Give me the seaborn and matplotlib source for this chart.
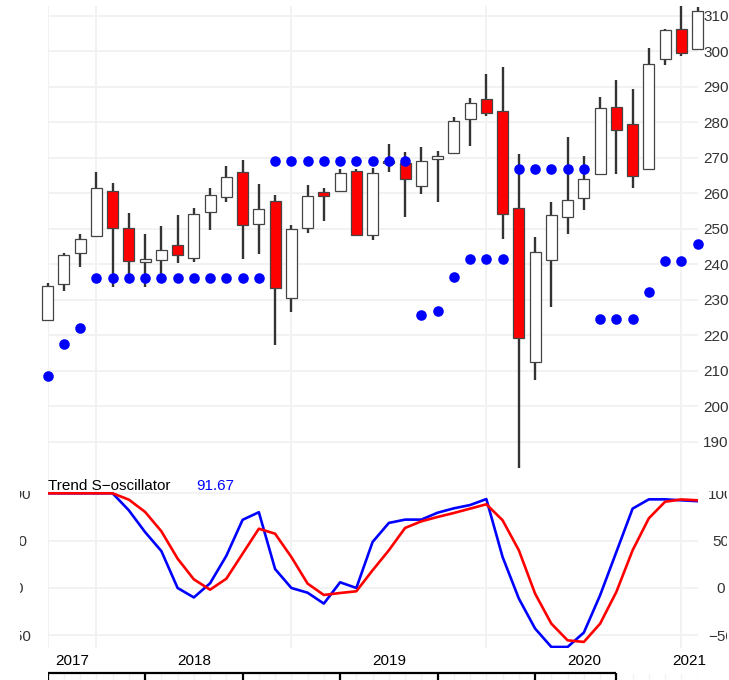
import numpy as np
import pandas as pd
import matplotlib
matplotlib.use("Agg")
import matplotlib.pyplot as plt
import matplotlib.transforms as mtransforms
import seaborn as sns

# ---------------- data ----------------
months = pd.date_range("2017-10-01", periods=41, freq="MS")

open_ = [224.2, 234.4, 243.0, 248.0, 260.7, 250.1, 240.6, 241.1, 245.4, 241.6,
         254.6, 259.0, 265.9, 251.3, 257.7, 230.5, 250.1, 260.2, 260.6, 266.3,
         248.1, 268.4, 268.6, 262.0, 269.5, 271.2, 281.0, 286.4, 283.1, 255.9,
         212.3, 241.1, 253.3, 258.7, 265.4, 284.3, 279.4, 266.7, 297.9, 306.1,
         300.5]
high = [234.7, 243.2, 248.6, 266.0, 262.9, 254.3, 248.4, 250.7, 253.8, 255.7,
        261.5, 267.6, 269.3, 262.7, 259.6, 251.0, 262.3, 261.5, 266.8, 266.7,
        267.0, 273.8, 271.6, 272.9, 271.9, 281.5, 286.8, 293.5, 295.6, 270.9,
        247.5, 257.4, 275.7, 270.5, 287.1, 291.8, 289.3, 300.9, 306.1, 312.7,
        312.3]
low = [224.2, 232.4, 239.3, 247.5, 233.6, 236.0, 233.6, 236.0, 240.2, 240.7,
       249.6, 257.5, 241.3, 242.8, 217.2, 226.4, 248.8, 252.1, 260.5, 248.0,
       246.8, 266.0, 253.3, 259.7, 257.4, 271.0, 273.2, 281.7, 247.0, 182.5,
       207.3, 228.0, 248.5, 255.2, 265.3, 265.4, 261.5, 266.6, 296.1, 298.6,
       300.4]
close = [233.8, 242.7, 247.1, 261.3, 250.1, 240.9, 241.5, 244.1, 242.7, 254.0,
         259.6, 264.5, 251.0, 255.4, 233.2, 250.0, 259.2, 259.2, 265.8, 248.1,
         265.8, 268.9, 263.9, 269.0, 270.4, 280.4, 285.3, 282.5, 254.0, 219.1,
         243.4, 253.8, 258.0, 264.1, 284.1, 277.7, 264.9, 296.3, 305.9, 299.6,
         311.4]
sar = [208.5, 217.5, 222.1, 236.0, 236.0, 236.0, 236.0, 236.0, 236.0, 236.0,
       236.0, 236.0, 236.0, 236.0, 269.0, 269.0, 269.0, 269.0, 269.0, 269.0,
       269.0, 269.0, 269.0, 225.6, 226.7, 236.5, 241.3, 241.3, 241.3, 266.8,
       266.8, 266.8, 266.8, 266.8, 224.5, 224.5, 224.5, 232.1, 240.8, 240.8,
       245.6]
osc_fast = [100, 100, 100, 100, 100, 82, 59, 39, 0, -10,
            5, 34, 72, 80, 20, 0, -5, -16.5, 6, 0,
            48.6, 68.7, 72.2, 72.2, 79.5, 84.1, 87.6, 93.9, 32.7, -11.2,
            -42.9, -62.3, -62.3, -47.1, -7.7, 38.0, 83.8, 93.6, 93.6, 92.6,
            91.67]
osc_slow = [100, 100, 100, 100, 100, 93.3, 80.3, 59.9, 31.0, 9.1,
            -1.8, 9.8, 36.2, 62.6, 57.3, 32.7, 4.6, -7.4, -5.3, -3.5,
            18.7, 39.8, 63.4, 70.4, 75.0, 79.2, 83.8, 88.4, 71.5, 39.8,
            -6.0, -37.7, -55.3, -57.0, -37.7, -4.2, 39.8, 73.6, 91.1, 93.5,
            92.6]
price_ticks = [190, 200, 210, 220, 230, 240, 250, 260, 270, 280, 290, 300, 310]
osc_ticks = [-50, 0, 50, 100]
osc_labels = ["\u221250", "0", "50", "100"]
strip_ticks = [0, 6, 12, 18, 24, 30, 35]

# ---------------- derived ----------------
n = len(months)
pos = np.arange(n)
o = np.array(open_); c = np.array(close)
years = months.year
starts = [0] + [i for i in range(1, n) if years[i] != years[i - 1]]
bounds = starts + [n - 1]
label_pos = [(bounds[k] + bounds[k + 1]) / 2 for k in range(len(starts))]
label_txt = [str(years[s]) for s in starts]

# ---------------- figure ----------------
sns.set_theme(style="white")
plt.rcParams["font.family"] = ["Liberation Sans", "DejaVu Sans"]
plt.rcParams["axes.unicode_minus"] = True

W, H = 729, 680
fig = plt.figure(figsize=(W / 100, H / 100), dpi=100, facecolor="white")


def rect(x0, y0, x1, y1):
    return [x0 / W, 1 - y1 / H, (x1 - x0) / W, (y1 - y0) / H]


ax = fig.add_axes(rect(47.6, 6, 697.6, 470))
ax2 = fig.add_axes(rect(47.6, 470, 697.6, 648))
ax3 = fig.add_axes(rect(47.6, 664, 697.6, 680))

grid_col = "#f2f2f2"

# ---- main price panel ----
ax.set_xlim(0, n - 1)
ax.set_ylim(182.0, 312.7)
for b in starts:
    ax.axvline(b, color=grid_col, lw=1.4, zorder=0)
ax.set_yticks(price_ticks)
ax.yaxis.grid(True, color=grid_col, lw=1.4)
ax.set_axisbelow(True)

ax.vlines(pos, low, high, color="#333333", lw=1.7, zorder=2, clip_on=False)
body_col = ["white" if cc >= oo else "#ff0000" for oo, cc in zip(o, c)]
ax.bar(pos, np.abs(c - o), bottom=np.minimum(o, c), width=0.68,
       color=body_col, edgecolor="#444444", linewidth=0.9, zorder=3, clip_on=False)
sns.scatterplot(x=pos, y=sar, ax=ax, color="#0000ff", s=58, linewidth=0,
                zorder=4, clip_on=False, legend=False)

for s in ax.spines.values():
    s.set_visible(False)
ax.set_xticks([])
ax.yaxis.tick_right()
ax.tick_params(axis="y", length=0, pad=13.2, labelsize=11, labelcolor="#333333")
for t in ax.get_yticklabels():
    t.set_ha("center")
ax.set_xlabel(""); ax.set_ylabel("")

# ---- oscillator panel ----
df = pd.DataFrame({
    "pos": np.concatenate([pos, pos]),
    "value": osc_fast + osc_slow,
    "series": ["fast"] * n + ["slow"] * n,
})
sns.lineplot(data=df, x="pos", y="value", hue="series", ax=ax2,
             palette={"fast": "#0000ff", "slow": "#ff0000"},
             estimator=None, sort=False, lw=1.9, legend=False, zorder=3)
ax2.set_xlim(0, n - 1)
ax2.set_ylim(-63.4, 124.6)
for b in starts:
    ax2.axvline(b, color=grid_col, lw=1.4, zorder=0)
ax2.set_yticks(osc_ticks, labels=osc_labels)
ax2.yaxis.grid(True, color=grid_col, lw=1.4)
ax2.set_axisbelow(True)
for s in ax2.spines.values():
    s.set_visible(False)
ax2.set_xticks(label_pos, labels=label_txt)
ax2.tick_params(axis="x", length=0, pad=4.0, labelsize=11, labelcolor="black")
ax2.tick_params(axis="y", length=0, pad=21.0, labelsize=11, labelcolor="#333333",
                left=False, right=False, labelleft=True, labelright=True)
ax2.set_xlabel(""); ax2.set_ylabel("")

clip_left = mtransforms.TransformedBbox(
    mtransforms.Bbox.from_extents(20 / W, 0, 0.5, 1 - 491 / H), fig.transFigure)
clip_right = mtransforms.TransformedBbox(
    mtransforms.Bbox.from_extents(0.5, 0, 727 / W, 1 - 491 / H), fig.transFigure)
shift = mtransforms.ScaledTranslation(-5.8 / 100, 0, fig.dpi_scale_trans)
for tk in ax2.yaxis.get_major_ticks():
    for lab, cb in ((tk.label1, clip_left), (tk.label2, clip_right)):
        lab.set_ha("center")
        lab.set_clip_box(cb)
        lab.set_clip_on(True)
    tk.label2.set_transform(tk.label2.get_transform() + shift)

ax2.text(0, 107.7, "Trend S\u2212oscillator", ha="left", va="center",
         fontsize=11, color="black")
ax2.text(9.14, 107.7, f"{osc_fast[-1]:.2f}", ha="left", va="center",
         fontsize=11, color="#0000ff")

# ---- bottom strip ----
ax3.set_xlim(0, n - 1)
ax3.set_ylim(0, 1)
ax3.axis("off")
yl = (680 - 673) / 16
ax3.vlines(pos, 0, yl, color="#f3f3f3", lw=1.0, zorder=1)
ax3.hlines(yl, strip_ticks[0], strip_ticks[-1], color="black", lw=1.6, zorder=3)
ax3.vlines(strip_ticks, 0, yl, color="black", lw=1.6, zorder=3)

fig.savefig("out.png", dpi=100, facecolor="white")
